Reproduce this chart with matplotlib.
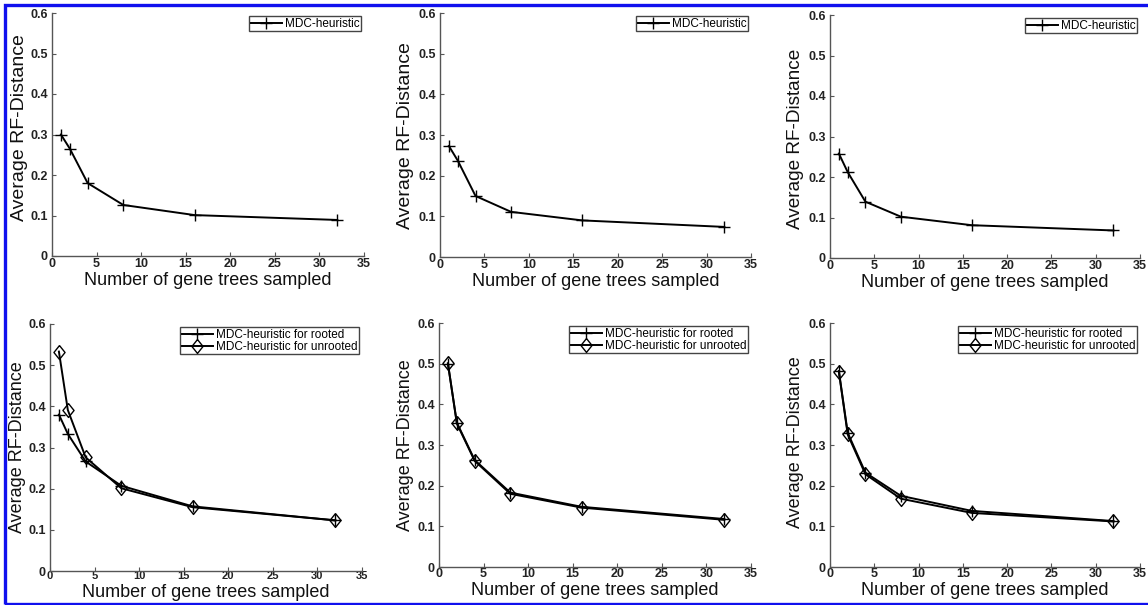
import matplotlib
matplotlib.use("Agg")
import matplotlib.pyplot as plt
from matplotlib.patches import Rectangle

plt.rcParams['font.family'] = ['Liberation Sans', 'DejaVu Sans']

x_trees = [1, 2, 4, 8, 16, 32]

# top row: single series
top_left = [0.300, 0.265, 0.180, 0.126, 0.101, 0.089]
top_mid = [0.273, 0.237, 0.150, 0.111, 0.090, 0.074]
top_right = [0.258, 0.212, 0.139, 0.102, 0.081, 0.068]

# bottom row: rooted / unrooted
bl_rooted = [0.380, 0.333, 0.266, 0.207, 0.157, 0.123]
bl_unrooted = [0.533, 0.391, 0.276, 0.201, 0.155, 0.123]
bm_rooted = [0.500, 0.355, 0.263, 0.183, 0.148, 0.118]
bm_unrooted = [0.501, 0.353, 0.261, 0.180, 0.146, 0.116]
br_rooted = [0.482, 0.330, 0.232, 0.175, 0.138, 0.113]
br_unrooted = [0.480, 0.326, 0.228, 0.168, 0.133, 0.112]

label_single = "MDC-heuristic"
label_rooted = "MDC-heuristic for rooted"
label_unrooted = "MDC-heuristic for unrooted"
xlabel = "Number of gene trees sampled"
ylabel = "Average RF-Distance"
xticks = [0, 5, 10, 15, 20, 25, 30, 35]
yticks = [0, 0.1, 0.2, 0.3, 0.4, 0.5, 0.6]
ytick_labels = ["0", "0.1", "0.2", "0.3", "0.4", "0.5", "0.6"]

W, H = 1148, 605
fig = plt.figure(figsize=(W / 100, H / 100), dpi=100)

# layout in pixels: axes box (x0, x1, ytop, ybot), ylabel (right edge, centre y, size),
# xlabel top y, x tick pad (pt), x tick label size
panels = [
    dict(box=(52, 364, 13, 256), yl=(28, 128, 14), xl_top=272, xpad=1.5, xts=9),
    dict(box=(440, 751, 13, 257), yl=(414, 136, 14), xl_top=273, xpad=1.5, xts=9),
    dict(box=(830, 1140, 15, 258), yl=(804, 139, 13.7), xl_top=274, xpad=1.5, xts=9),
    dict(box=(50, 362, 324, 571), yl=(26, 447, 13), xl_top=584, xpad=0.3, xts=8),
    dict(box=(439, 751, 323, 567), yl=(414, 445, 13), xl_top=582, xpad=0.8, xts=9),
    dict(box=(830, 1140, 323, 567), yl=(804, 442, 13), xl_top=582, xpad=0.8, xts=9),
]

diamond = [(0, 1), (0.8, 0), (0, -1), (-0.8, 0), (0, 1)]


def make_ax(p):
    x0, x1, yt, yb = p['box']
    ax = fig.add_axes([x0 / W, 1 - yb / H, (x1 - x0) / W, (yb - yt) / H])
    ax.set_xlim(0, 35)
    ax.set_ylim(0, 0.6)
    ax.spines['top'].set_visible(False)
    ax.spines['right'].set_visible(False)
    for s in ('left', 'bottom'):
        ax.spines[s].set_color('#555555')
        ax.spines[s].set_linewidth(1.0)
    ax.set_xticks(xticks)
    ax.set_yticks(yticks)
    ax.set_yticklabels(ytick_labels)
    ax.tick_params(direction='in', length=3, width=0.8, color='#555555',
                   labelsize=9, pad=3)
    ax.tick_params(axis='x', pad=p['xpad'], labelsize=p['xts'])
    for lab in ax.get_xticklabels() + ax.get_yticklabels():
        lab.set_fontweight('bold')
        lab.set_color('#222222')
    xr, yc, ys = p['yl']
    ax.set_ylabel(ylabel, fontsize=ys, color='#111111')
    ax.yaxis.set_label_coords((xr - x0) / (x1 - x0), (yb - yc) / (yb - yt))
    ax.set_xlabel(xlabel, fontsize=13, color='#111111')
    ax.xaxis.set_label_coords(0.5, (yb - p['xl_top']) / (yb - yt))
    return ax


def legend(ax):
    leg = ax.legend(loc='upper right', fontsize=8.5, frameon=True, fancybox=False,
                    edgecolor='#444444', framealpha=1, borderpad=0.15,
                    handlelength=2.6, handletextpad=0.25, labelspacing=0.0,
                    borderaxespad=0.25)
    leg.get_frame().set_linewidth(1.0)


for p, vals in zip(panels[:3], [top_left, top_mid, top_right]):
    ax = make_ax(p)
    ax.plot(x_trees, vals, color='black', lw=1.4, marker='+', ms=9, mew=1.0,
            label=label_single)
    legend(ax)

for p, r, u in zip(panels[3:], [bl_rooted, bm_rooted, br_rooted],
                   [bl_unrooted, bm_unrooted, br_unrooted]):
    ax = make_ax(p)
    ax.plot(x_trees, r, color='black', lw=1.4, marker='+', ms=9, mew=1.0,
            label=label_rooted)
    ax.plot(x_trees, u, color='black', lw=1.4, marker=diamond, ms=10, mew=1.0,
            mfc='none', label=label_unrooted)
    legend(ax)

# blue frame
fig.add_artist(Rectangle((4.5 / W, 1 - 603.5 / H), (W + 10) / W, 599 / H,
                         transform=fig.transFigure, fill=False,
                         edgecolor='#1010ee', linewidth=2.4))

fig.savefig("out.png", dpi=100)
